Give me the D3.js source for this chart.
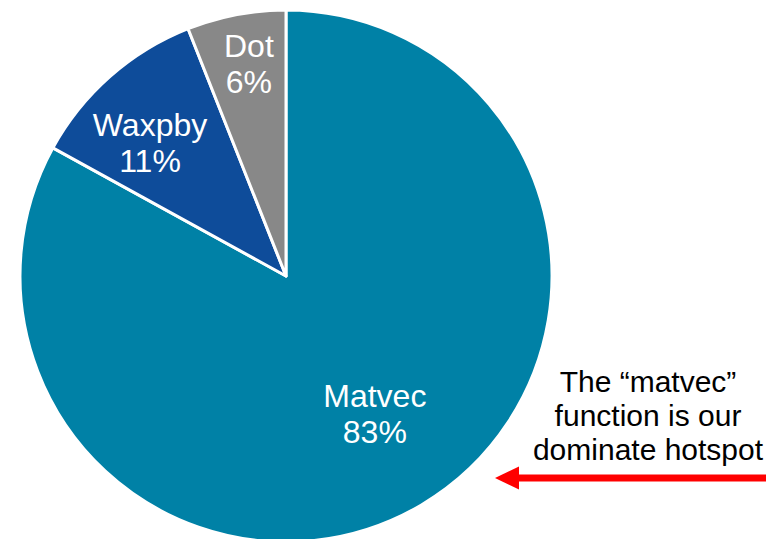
<!DOCTYPE html>
<html><head><meta charset="utf-8">
<script src="https://cdn.jsdelivr.net/npm/d3@7"></script>
<style>html,body{margin:0;padding:0;background:#fff;overflow:hidden}</style>
</head><body>
<svg id="chart" width="778" height="539"></svg>
<script>
const categories = ["Matvec", "Waxpby", "Dot"];
const values = [83, 11, 6];
const valueLabels = ["83%", "11%", "6%"];
const colors = ["#0081A6", "#0E4C9A", "#888888"];
// label placement tweaks (radius fraction, angle nudge in degrees)
const labelRadiusFrac = [0.613, 0.718, 0.812];
const labelAngleNudge = [-2.4, -4.0, 0.9];
const noteLines = ["The \u201Cmatvec\u201D", "function is our", "dominate hotspot"];

const svg = d3.select("#chart");
const cx = 286, cy = 276, R = 266;
const g = svg.append("g").attr("transform", `translate(${cx},${cy})`);

const pie = d3.pie().sort(null).value(d => d.v);
const data = pie(categories.map((c, i) => ({c, v: values[i], i})));
const arc = d3.arc().innerRadius(0).outerRadius(R);

g.selectAll("path").data(data).join("path")
  .attr("d", arc)
  .attr("fill", d => colors[d.data.i])
  .attr("stroke", "#fff").attr("stroke-width", 3).attr("stroke-linejoin", "round");

const font = "Arial, 'Liberation Sans', sans-serif";
data.forEach(d => {
  const i = d.data.i;
  const r = R * labelRadiusFrac[i];
  const a = (d.startAngle + d.endAngle) / 2 + labelAngleNudge[i] * Math.PI / 180;
  const x = r * Math.sin(a), y = -r * Math.cos(a);
  const t = g.append("text").attr("text-anchor", "middle")
    .attr("font-family", font).attr("font-size", 32).attr("fill", "#fff");
  t.append("tspan").attr("x", x).attr("y", y - 6).text(d.data.c);
  t.append("tspan").attr("x", x).attr("y", y + 30).text(valueLabels[i]);
});

const note = svg.append("text").attr("text-anchor", "middle")
  .attr("font-family", font).attr("font-size", 30).attr("fill", "#000");
noteLines.forEach((l, i) => note.append("tspan").attr("x", 648).attr("y", 392 + i * 34).text(l));

svg.append("line").attr("x1", 766).attr("x2", 515).attr("y1", 478).attr("y2", 478)
  .attr("stroke", "#FF0000").attr("stroke-width", 7);
svg.append("path").attr("d", "M495,478 L519,466.5 L519,489.5 Z").attr("fill", "#FF0000");
</script>
</body></html>
